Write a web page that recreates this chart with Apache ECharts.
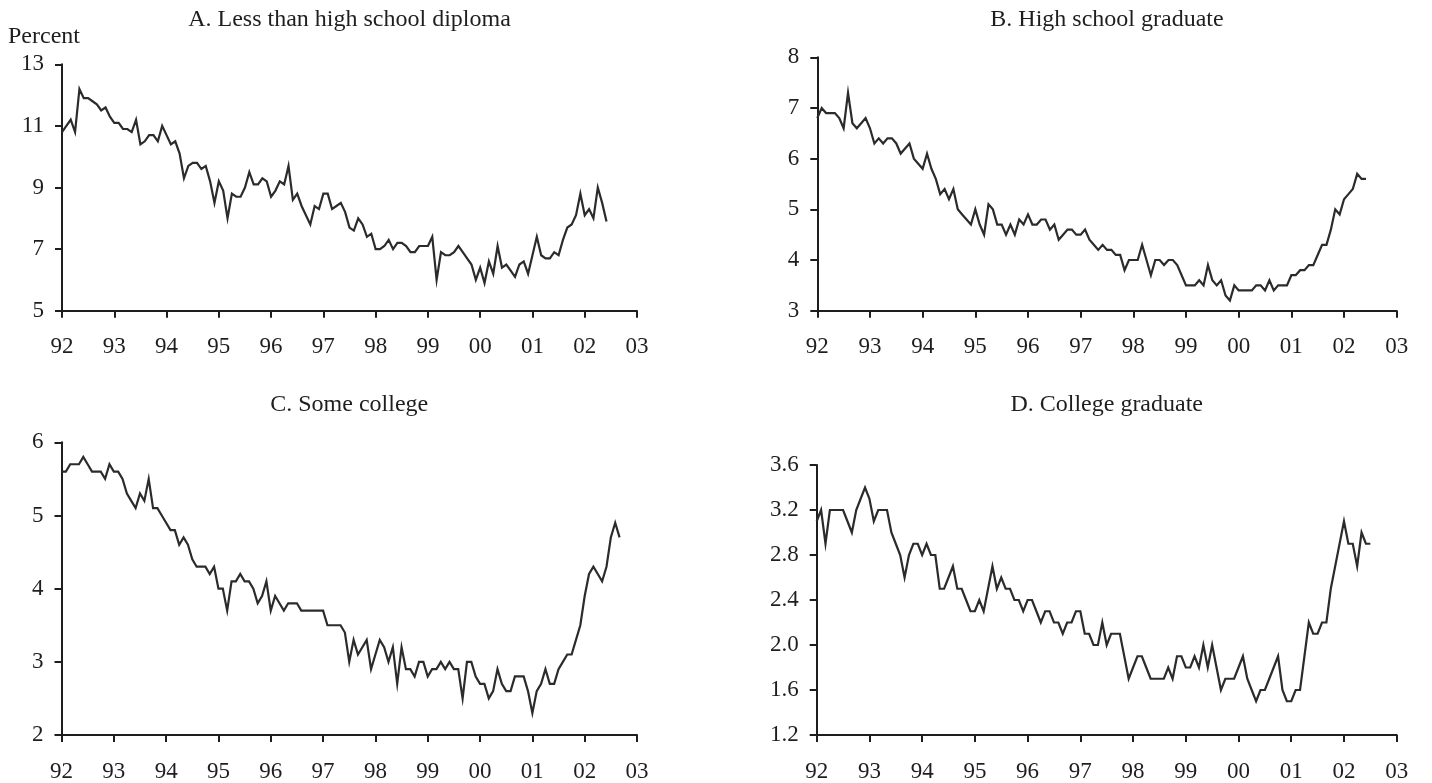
<!DOCTYPE html>
<html>
<head>
<meta charset="utf-8">
<title>Unemployment rate by educational attainment</title>
<script src="https://cdn.jsdelivr.net/npm/echarts@6/dist/echarts.min.js"></script>
<style>
  html, body { margin: 0; padding: 0; background: #fff; }
  #chart { width: 1432px; height: 783px; }
</style>
</head>
<body>
<div id="chart"></div>
<script>
// Monthly unemployment rates (percent), January 1992 onward.
const lessThanHighSchool = [
  10.8, 11.0, 11.2, 10.8, 12.2, 11.9, 11.9, 11.8, 11.7, 11.5, 11.6, 11.3,
  11.1, 11.1, 10.9, 10.9, 10.8, 11.2, 10.4, 10.5, 10.7, 10.7, 10.5, 11.0,
  10.7, 10.4, 10.5, 10.1, 9.3, 9.7, 9.8, 9.8, 9.6, 9.7, 9.2, 8.5,
  9.2, 8.9, 8.0, 8.8, 8.7, 8.7, 9.0, 9.5, 9.1, 9.1, 9.3, 9.2,
  8.7, 8.9, 9.2, 9.1, 9.7, 8.6, 8.8, 8.4, 8.1, 7.8, 8.4, 8.3,
  8.8, 8.8, 8.3, 8.4, 8.5, 8.2, 7.7, 7.6, 8.0, 7.8, 7.4, 7.5,
  7.0, 7.0, 7.1, 7.3, 7.0, 7.2, 7.2, 7.1, 6.9, 6.9, 7.1, 7.1,
  7.1, 7.4, 6.0, 6.9, 6.8, 6.8, 6.9, 7.1, 6.9, 6.7, 6.5, 6.0,
  6.4, 5.9, 6.6, 6.2, 7.1, 6.4, 6.5, 6.3, 6.1, 6.5, 6.6, 6.2,
  6.8, 7.4, 6.8, 6.7, 6.7, 6.9, 6.8, 7.3, 7.7, 7.8, 8.1, 8.8,
  8.1, 8.3, 8.0, 9.0, 8.5, 7.9
];

const highSchoolGraduate = [
  6.8, 7.0, 6.9, 6.9, 6.9, 6.8, 6.6, 7.3, 6.7, 6.6, 6.7, 6.8,
  6.6, 6.3, 6.4, 6.3, 6.4, 6.4, 6.3, 6.1, 6.2, 6.3, 6.0, 5.9,
  5.8, 6.1, 5.8, 5.6, 5.3, 5.4, 5.2, 5.4, 5.0, 4.9, 4.8, 4.7,
  5.0, 4.7, 4.5, 5.1, 5.0, 4.7, 4.7, 4.5, 4.7, 4.5, 4.8, 4.7,
  4.9, 4.7, 4.7, 4.8, 4.8, 4.6, 4.7, 4.4, 4.5, 4.6, 4.6, 4.5,
  4.5, 4.6, 4.4, 4.3, 4.2, 4.3, 4.2, 4.2, 4.1, 4.1, 3.8, 4.0,
  4.0, 4.0, 4.3, 4.0, 3.7, 4.0, 4.0, 3.9, 4.0, 4.0, 3.9, 3.7,
  3.5, 3.5, 3.5, 3.6, 3.5, 3.9, 3.6, 3.5, 3.6, 3.3, 3.2, 3.5,
  3.4, 3.4, 3.4, 3.4, 3.5, 3.5, 3.4, 3.6, 3.4, 3.5, 3.5, 3.5,
  3.7, 3.7, 3.8, 3.8, 3.9, 3.9, 4.1, 4.3, 4.3, 4.6, 5.0, 4.9,
  5.2, 5.3, 5.4, 5.7, 5.6, 5.6
];

const someCollege = [
  5.6, 5.6, 5.7, 5.7, 5.7, 5.8, 5.7, 5.6, 5.6, 5.6, 5.5, 5.7,
  5.6, 5.6, 5.5, 5.3, 5.2, 5.1, 5.3, 5.2, 5.5, 5.1, 5.1, 5.0,
  4.9, 4.8, 4.8, 4.6, 4.7, 4.6, 4.4, 4.3, 4.3, 4.3, 4.2, 4.3,
  4.0, 4.0, 3.7, 4.1, 4.1, 4.2, 4.1, 4.1, 4.0, 3.8, 3.9, 4.1,
  3.7, 3.9, 3.8, 3.7, 3.8, 3.8, 3.8, 3.7, 3.7, 3.7, 3.7, 3.7,
  3.7, 3.5, 3.5, 3.5, 3.5, 3.4, 3.0, 3.3, 3.1, 3.2, 3.3, 2.9,
  3.1, 3.3, 3.2, 3.0, 3.2, 2.7, 3.2, 2.9, 2.9, 2.8, 3.0, 3.0,
  2.8, 2.9, 2.9, 3.0, 2.9, 3.0, 2.9, 2.9, 2.5, 3.0, 3.0, 2.8,
  2.7, 2.7, 2.5, 2.6, 2.9, 2.7, 2.6, 2.6, 2.8, 2.8, 2.8, 2.6,
  2.3, 2.6, 2.7, 2.9, 2.7, 2.7, 2.9, 3.0, 3.1, 3.1, 3.3, 3.5,
  3.9, 4.2, 4.3, 4.2, 4.1, 4.3, 4.7, 4.9, 4.7
];

const collegeGraduate = [
  3.1, 3.2, 2.9, 3.2, 3.2, 3.2, 3.2, 3.1, 3.0, 3.2, 3.3, 3.4,
  3.3, 3.1, 3.2, 3.2, 3.2, 3.0, 2.9, 2.8, 2.6, 2.8, 2.9, 2.9,
  2.8, 2.9, 2.8, 2.8, 2.5, 2.5, 2.6, 2.7, 2.5, 2.5, 2.4, 2.3,
  2.3, 2.4, 2.3, 2.5, 2.7, 2.5, 2.6, 2.5, 2.5, 2.4, 2.4, 2.3,
  2.4, 2.4, 2.3, 2.2, 2.3, 2.3, 2.2, 2.2, 2.1, 2.2, 2.2, 2.3,
  2.3, 2.1, 2.1, 2.0, 2.0, 2.2, 2.0, 2.1, 2.1, 2.1, 1.9, 1.7,
  1.8, 1.9, 1.9, 1.8, 1.7, 1.7, 1.7, 1.7, 1.8, 1.7, 1.9, 1.9,
  1.8, 1.8, 1.9, 1.8, 2.0, 1.8, 2.0, 1.8, 1.6, 1.7, 1.7, 1.7,
  1.8, 1.9, 1.7, 1.6, 1.5, 1.6, 1.6, 1.7, 1.8, 1.9, 1.6, 1.5,
  1.5, 1.6, 1.6, 1.9, 2.2, 2.1, 2.1, 2.2, 2.2, 2.5, 2.7, 2.9,
  3.1, 2.9, 2.9, 2.7, 3.0, 2.9, 2.9
];

// Year tick labels, one every 12 months starting at January 1992.
const yearTicks = ['92', '93', '94', '95', '96', '97', '98', '99', '00', '01', '02', '03'];

// Value-axis ticks for each panel.
const yTicksA = [5, 7, 9, 11, 13];
const yTicksB = [3, 4, 5, 6, 7, 8];
const yTicksC = [2, 3, 4, 5, 6];
const yTicksD = [1.2, 1.6, 2.0, 2.4, 2.8, 3.2, 3.6];

const panelTitles = [
  'A. Less than high school diploma',
  'B. High school graduate',
  'C. Some college',
  'D. College graduate'
];
const unitLabel = 'Percent';

// ---- layout and styling ----
const FONT = '"Liberation Serif", "Times New Roman", serif';
const LABEL_SIZE = 23;
const TITLE_SIZE = 24;
const INK = '#1e1e1e';
const LINE = '#2b2b2b';

const panels = [
  { values: lessThanHighSchool, ticks: yTicksA, decimals: 0,
    grid: { left: 62, top: 64.3, width: 575, height: 246.4 } },
  { values: highSchoolGraduate, ticks: yTicksB, decimals: 0,
    grid: { left: 817.3, top: 57.3, width: 579.4, height: 253.4 } },
  { values: someCollege, ticks: yTicksC, decimals: 0,
    grid: { left: 61.5, top: 442.3, width: 575.5, height: 295.7 } },
  { values: collegeGraduate, ticks: yTicksD, decimals: 1,
    grid: { left: 816.7, top: 465, width: 580, height: 272.5 } }
];

const titleY = [20, 20, 405, 405];

const axisLine = { show: true, lineStyle: { color: INK, width: 2 } };
const axisTick = { show: true, inside: false, length: 7, lineStyle: { color: INK, width: 2 } };
const labelStyle = { fontFamily: FONT, fontSize: LABEL_SIZE, color: INK };

const grids = [], xAxes = [], yAxes = [], series = [], graphics = [];

panels.forEach((p, i) => {
  grids.push(Object.assign({ containLabel: false }, p.grid));

  xAxes.push({
    type: 'value', gridIndex: i,
    min: 0, max: (yearTicks.length - 1) * 12, interval: 12,
    axisLine, axisTick,
    splitLine: { show: false },
    axisLabel: Object.assign({
      margin: 25,
      formatter: v => yearTicks[Math.round(v / 12)] || ''
    }, labelStyle)
  });

  const step = +(p.ticks[1] - p.ticks[0]).toFixed(4);
  yAxes.push({
    type: 'value', gridIndex: i,
    min: p.ticks[0], max: p.ticks[p.ticks.length - 1], interval: step,
    axisLine, axisTick,
    splitLine: { show: false },
    axisLabel: Object.assign({
      margin: 18,
      formatter: v => Number(v).toFixed(p.decimals)
    }, labelStyle)
  });

  series.push({
    type: 'line', xAxisIndex: i, yAxisIndex: i,
    data: p.values.map((v, m) => [m, v]),
    showSymbol: false, symbol: 'none',
    lineStyle: { color: LINE, width: 2.2, join: 'miter' },
    silent: true
  });

  graphics.push({
    type: 'text',
    x: p.grid.left + p.grid.width / 2,
    y: titleY[i],
    style: {
      text: panelTitles[i],
      font: TITLE_SIZE + 'px ' + FONT,
      fill: INK,
      align: 'center',
      verticalAlign: 'middle'
    }
  });
});

graphics.push({
  type: 'text', x: 8, y: 37,
  style: {
    text: unitLabel,
    font: TITLE_SIZE + 'px ' + FONT,
    fill: INK,
    align: 'left',
    verticalAlign: 'middle'
  }
});

const chart = echarts.init(document.getElementById('chart'), null, { renderer: 'canvas' });
chart.setOption({
  animation: false,
  backgroundColor: '#fff',
  grid: grids,
  xAxis: xAxes,
  yAxis: yAxes,
  series,
  graphic: graphics
});
</script>
</body>
</html>
